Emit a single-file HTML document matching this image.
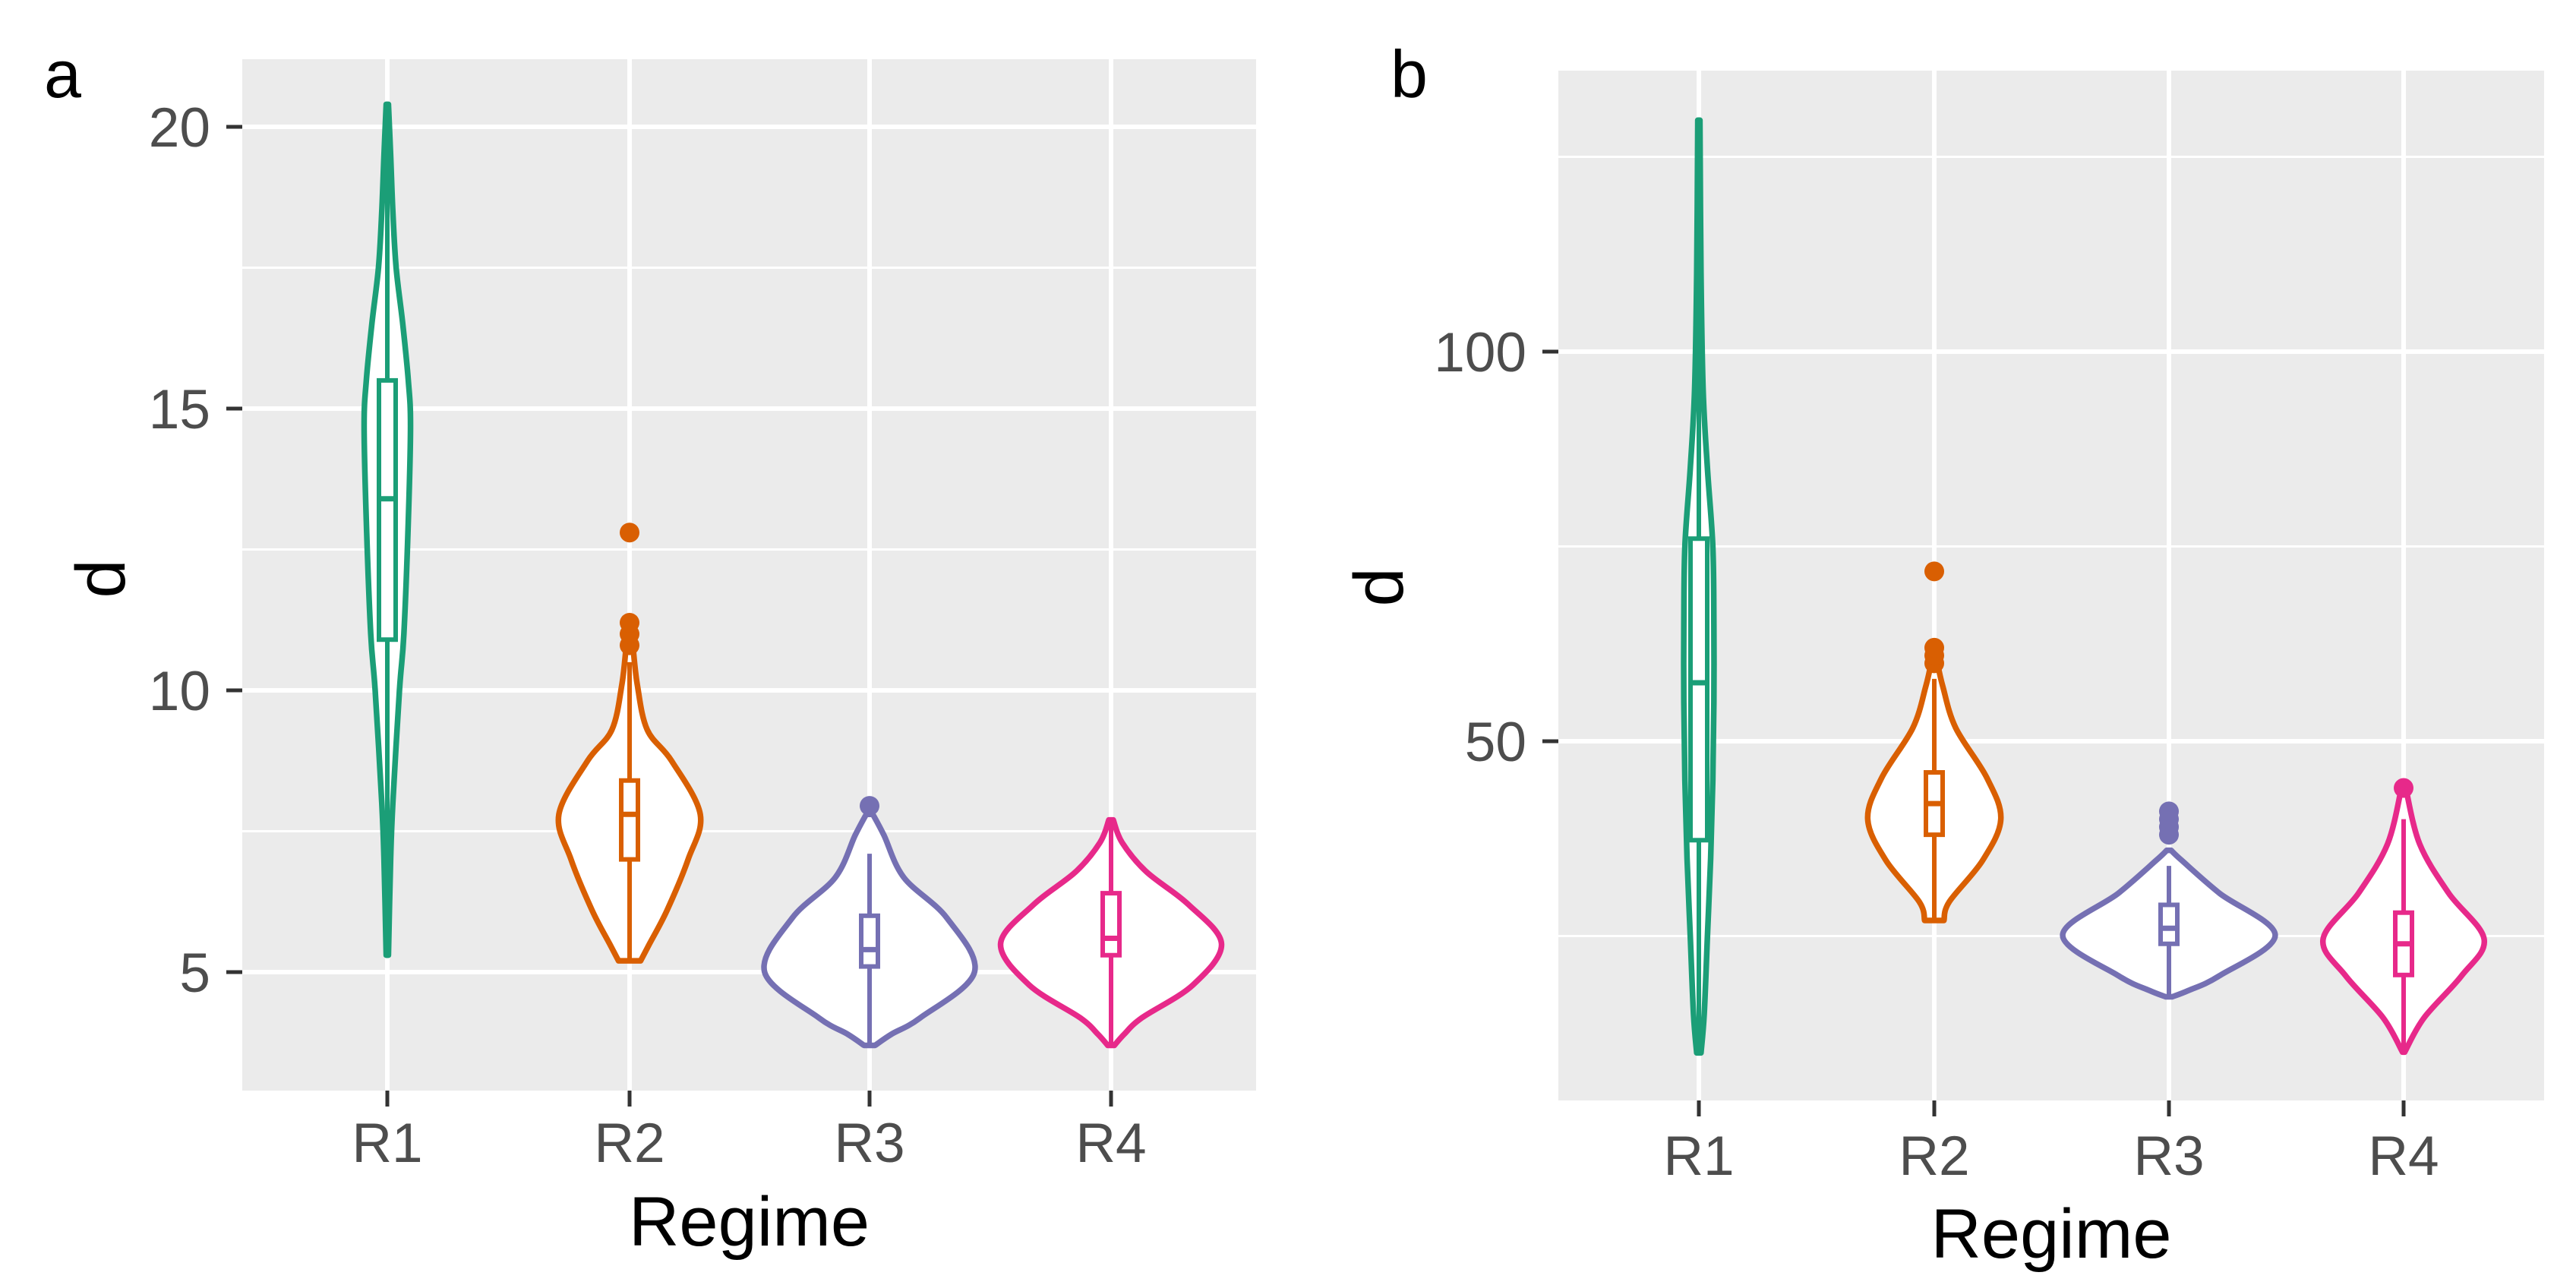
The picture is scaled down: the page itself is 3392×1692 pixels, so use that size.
<!DOCTYPE html>
<html><head><meta charset="utf-8"><style>
html,body{margin:0;padding:0;background:#fff}
svg{display:block}
text{font-family:"Liberation Sans",Arial,sans-serif}
</style></head><body>
<svg id="chart" width="3392" height="1692" viewBox="0 0 3392 1692" xmlns="http://www.w3.org/2000/svg"></svg>
<script>
// ---------- data ----------
const categories = ["R1","R2","R3","R4"];
const colors = ["#1b9e77","#d95f02","#7570b3","#e7298a"];
// panel a
const aTicks = [5,10,15,20];
const aMinor = [7.5,12.5,17.5];
const aDensV = [
 [5.3,7,8,10,11,13,14.7,15.5,16.5,17.5,18.5,19.5,20.4],
 [5.2,5.5,6.1,7.0,7.8,8.75,9.3,10.1,10.8],
 [3.7,3.9,4.19,5.0,5.96,6.68,7.43,7.8],
 [3.7,3.9,4.19,4.77,5.5,6.2,6.78,7.3,7.7]];
const aDensW = [
 [0.01,0.03,0.05,0.11,0.15,0.19,0.21,0.19,0.14,0.08,0.05,0.03,0.01],
 [0.1,0.18,0.34,0.53,0.64,0.38,0.16,0.07,0.03],
 [0.05,0.2,0.46,0.95,0.70,0.31,0.13,0.03],
 [0.03,0.12,0.28,0.74,1.0,0.70,0.32,0.1,0.02]];
const aQ1 = [10.9,7.0,5.1,5.3];
const aMed = [13.4,7.8,5.4,5.6];
const aQ3 = [15.5,8.4,6.0,6.4];
const aWLo = [5.3,5.2,3.7,3.7];
const aWHi = [20.3,10.5,7.1,7.7];
const aOut = [[],[10.8,11.0,11.2,12.8],[7.95],[]];
// panel b
const bTicks = [50,100];
const bMinor = [25,75,125];
const bDensV = [
 [10,15,25,35,45,55,65,75,85,95,110,129.7],
 [27,29.4,34.7,40,45.3,51.7,57,60],
 [17.2,18,19.9,25.1,30.5,34.7,36],
 [10.1,14.5,19.9,24.6,30.5,36.8,44]];
const bDensW = [
 [0.02,0.05,0.08,0.11,0.13,0.14,0.14,0.13,0.08,0.04,0.02,0.01],
 [0.09,0.14,0.45,0.62,0.49,0.2,0.08,0.03],
 [0.03,0.18,0.47,0.99,0.47,0.12,0.02],
 [0.01,0.19,0.54,0.75,0.42,0.15,0.02]];
const bQ1 = [37.3,38,24,20];
const bMed = [57.5,42,26,24];
const bQ3 = [76,46,29,28];
const bWLo = [10,27,17.2,10];
const bWHi = [129.7,58,34,40];
const bOut = [[],[60,61,62,71.8],[38,39,40,41],[44]];

// ---------- layout ----------
const NS="http://www.w3.org/2000/svg";
const svg=document.getElementById('chart');
function mk(tag,attrs,parent){const e=document.createElementNS(NS,tag);for(const k in attrs)e.setAttribute(k,attrs[k]);(parent||svg).appendChild(e);return e;}

const panels=[
 {id:'a',x0:319,x1:1654,y0:78,y1:1436,v0:5,p0:1280,ppu:74.2,cx:[510,829,1145,1463],
  ticks:aTicks,minor:aMinor,dv:aDensV,dw:aDensW,q1:aQ1,med:aMed,q3:aQ3,wlo:aWLo,whi:aWHi,out:aOut,
  tickBase:1530,titleBase:1640,dX:131,dY:762,letterX:58,letterY:128},
 {id:'b',x0:2052,x1:3350,y0:93,y1:1449,v0:0,p0:1489,ppu:10.26,cx:[2237,2547,2856,3165],
  ticks:bTicks,minor:bMinor,dv:bDensV,dw:bDensW,q1:bQ1,med:bMed,q3:bQ3,wlo:bWLo,whi:bWHi,out:bOut,
  tickBase:1547,titleBase:1656,dX:1814,dY:773,letterX:1831,letterY:128}
];

function smoothPath(pts){
 let d=`M${pts[0][0]},${pts[0][1]}`;
 for(let i=0;i<pts.length-1;i++){
  const p0=pts[Math.max(0,i-1)],p1=pts[i],p2=pts[i+1],p3=pts[Math.min(pts.length-1,i+2)];
  const c1x=p1[0]+(p2[0]-p0[0])/6,c1y=p1[1]+(p2[1]-p0[1])/6;
  const c2x=p2[0]-(p3[0]-p1[0])/6,c2y=p2[1]-(p3[1]-p1[1])/6;
  d+=` C${c1x},${c1y} ${c2x},${c2y} ${p2[0]},${p2[1]}`;
 }
 return d;
}

panels.forEach(P=>{
 const y=v=>P.p0-(v-P.v0)*P.ppu;
 const g=mk('g',{});
 
 
 const bg=mk('rect',{x:P.x0,y:P.y0,width:P.x1-P.x0,height:P.y1-P.y0,fill:'#ebebeb'},g);
 
 
 P.minor.forEach(v=>{
  const l=mk('line',{x1:P.x0,x2:P.x1,y1:y(v),y2:y(v),stroke:'#fff','stroke-width':3},g);
  
  
 });
 P.ticks.forEach(v=>{
  const l=mk('line',{x1:P.x0,x2:P.x1,y1:y(v),y2:y(v),stroke:'#fff','stroke-width':6},g);
  
  
  const t=mk('line',{x1:P.x0-21,x2:P.x0,y1:y(v),y2:y(v),stroke:'#333','stroke-width':5},g);
  
  
  const tx=mk('text',{x:P.x0-42,y:y(v)+26,'text-anchor':'end','font-size':73,fill:'#4d4d4d'},g);
  tx.textContent=v;
  
  
 });
 categories.forEach((c,i)=>{
  const cx=P.cx[i];
  const l=mk('line',{x1:cx,x2:cx,y1:P.y0,y2:P.y1,stroke:'#fff','stroke-width':6},g);
  
  
  const t=mk('line',{x1:cx,x2:cx,y1:P.y1,y2:P.y1+21,stroke:'#333','stroke-width':5},g);
  
  
  const tx=mk('text',{x:cx,y:P.tickBase,'text-anchor':'middle','font-size':73,fill:'#4d4d4d'},g);
  tx.textContent=c;
  
  
 });
 const sp=P.cx[1]-P.cx[0];
 categories.forEach((c,i)=>{
  const cx=P.cx[i],col=colors[i];
  const vg=mk('g',{},g);
  
  
  const vs=P.dv[i],ws=P.dw[i];
  const right=vs.map((v,k)=>[cx+ws[k]*0.456*sp,y(v)]);
  const left=vs.map((v,k)=>[cx-ws[k]*0.456*sp,y(v)]).reverse();
  let d=smoothPath(right)+' L'+left[0][0]+','+left[0][1]+smoothPath(left).replace(/^M[^C]*/,' ')+' Z';
  const vp=mk('path',{d:d,fill:'#fff',stroke:col,'stroke-width':7.5,'stroke-linejoin':'round'},vg);
  
  
  const wl=mk('line',{x1:cx,x2:cx,y1:y(P.wlo[i]),y2:y(P.whi[i]),stroke:col,'stroke-width':6},vg);
  
  
  const bw=11;
  const bx=mk('rect',{x:cx-bw,y:y(P.q3[i]),width:2*bw,height:y(P.q1[i])-y(P.q3[i]),fill:'#fff',stroke:col,'stroke-width':6},vg);
  
  
  const md=mk('line',{x1:cx-bw,x2:cx+bw,y1:y(P.med[i]),y2:y(P.med[i]),stroke:col,'stroke-width':7},vg);
  
  
  P.out[i].forEach(v=>{
   const o=mk('circle',{cx:cx,cy:y(v),r:13,fill:col},vg);
   
   
  });
 });
 const xt=mk('text',{x:(P.x0+P.x1)/2,y:P.titleBase,'text-anchor':'middle','font-size':92,fill:'#000'},g);
 xt.textContent='Regime';
 
 
 const yt=mk('text',{x:0,y:0,'text-anchor':'middle','font-size':92,fill:'#000',transform:`translate(${P.dX+33},${P.dY}) rotate(-90)`},g);
 yt.textContent='d';
 
 
 const lt=mk('text',{x:P.letterX,y:P.letterY,'font-size':88,fill:'#000'},g);
 lt.textContent=P.id;
 
 
});
</script>
</body></html>
